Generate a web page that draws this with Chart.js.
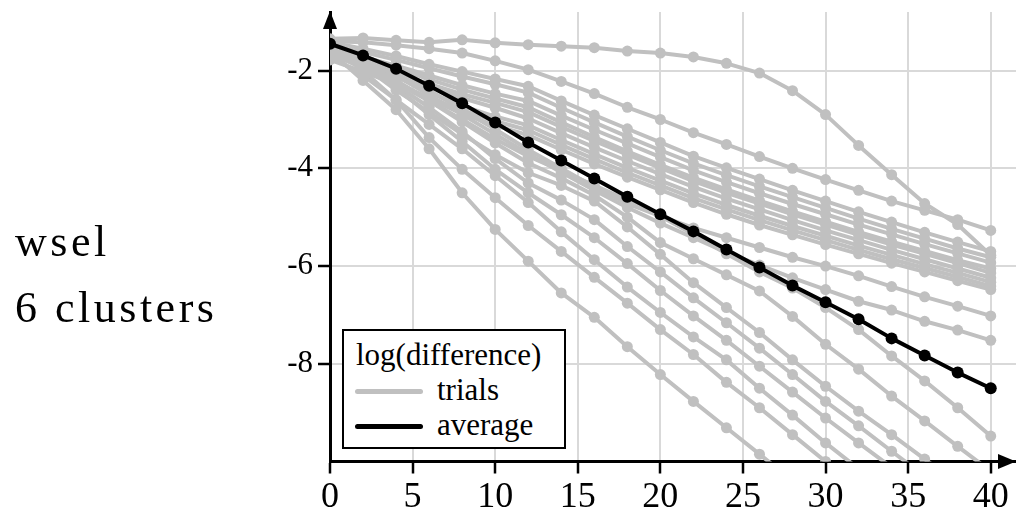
<!DOCTYPE html>
<html>
<head>
<meta charset="utf-8">
<title>wsel, 6 clusters: log(difference)</title>
<script src="https://cdn.jsdelivr.net/npm/chart.js@4.4.1/dist/chart.umd.min.js"></script>
<style>
  html, body { margin: 0; padding: 0; background: #fff; overflow: hidden; }
  #wrap { position: relative; width: 1016px; height: 517px; }
  #c { position: absolute; left: 0; top: 0; }
  #caption {
    position: absolute; left: 15px; top: 209px;
    font-family: "Liberation Serif", "Times New Roman", "DejaVu Serif", serif; font-size: 44px; line-height: 66px;
    letter-spacing: 3.5px; color: #000; white-space: nowrap;
  }
  #legend {
    position: absolute; left: 342px; top: 329px; width: 224px; height: 120px;
    box-sizing: border-box; border: 2px solid #000; background: #fff;
    font-family: "Liberation Serif", "Times New Roman", "DejaVu Serif", serif; font-size: 31px; line-height: 31px; color: #000;
  }
  #legend .txt { position: absolute; white-space: nowrap; }
  #legend .swatch { position: absolute; height: 4.5px; border-radius: 2.5px; }
</style>
</head>
<body>
<div id="wrap">
  <canvas id="c" width="1016" height="517"></canvas>
  <div id="caption">wsel<br>6 clusters</div>
  <div id="legend"></div>
</div>
<script>
// iteration number on the x axis
const xValues = [0, 2, 4, 6, 8, 10, 12, 14, 16, 18, 20, 22, 24, 26, 28, 30, 32, 34, 36, 38, 40];

// mean log(difference) over all trials
const average = [-1.45, -1.69, -1.96, -2.31, -2.67, -3.06, -3.47, -3.84, -4.21, -4.58, -4.94,
                 -5.29, -5.66, -6.03, -6.40, -6.74, -7.09, -7.48, -7.83, -8.18, -8.50];

// individual trials (a run stops once it falls below the plotted range)
const trialA = [-1.35, -1.33, -1.38, -1.42, -1.37, -1.43, -1.47, -1.50, -1.53, -1.60, -1.64, -1.72, -1.85, -2.05, -2.41, -2.90, -3.53, -4.13, -4.72, -5.15, -5.78];
const trialB = [-1.40, -1.42, -1.48, -1.55, -1.64, -1.80, -1.98, -2.22, -2.47, -2.75, -3.00, -3.27, -3.51, -3.76, -4.00, -4.23, -4.45, -4.67, -4.86, -5.05, -5.27];
const trialC = [-1.42, -1.55, -1.70, -1.87, -2.02, -2.17, -2.32, -2.62, -2.91, -3.19, -3.47, -3.75, -3.99, -4.22, -4.45, -4.67, -4.89, -5.10, -5.31, -5.51, -5.70];
const trialD = [-1.50, -1.62, -1.78, -1.95, -2.12, -2.28, -2.45, -2.76, -3.06, -3.35, -3.63, -3.90, -4.14, -4.37, -4.59, -4.81, -5.03, -5.24, -5.44, -5.64, -5.82];
const trialF = [-1.55, -1.72, -1.90, -2.10, -2.30, -2.47, -2.62, -2.92, -3.21, -3.49, -3.77, -4.04, -4.28, -4.51, -4.73, -4.94, -5.15, -5.35, -5.55, -5.74, -5.93];
const trialG = [-1.45, -1.70, -1.95, -2.18, -2.39, -2.57, -2.75, -3.06, -3.36, -3.65, -3.93, -4.19, -4.43, -4.66, -4.88, -5.09, -5.30, -5.50, -5.69, -5.88, -6.05];
const trialH = [-1.62, -1.82, -2.04, -2.27, -2.48, -2.66, -2.85, -3.15, -3.44, -3.72, -3.99, -4.26, -4.50, -4.72, -4.94, -5.15, -5.36, -5.56, -5.75, -5.94, -6.14];
const trialI = [-1.48, -1.76, -2.05, -2.32, -2.56, -2.76, -2.98, -3.28, -3.57, -3.85, -4.12, -4.38, -4.62, -4.84, -5.06, -5.27, -5.47, -5.67, -5.86, -6.05, -6.24];
const trialK = [-1.40, -1.75, -2.12, -2.45, -2.72, -2.94, -3.12, -3.42, -3.71, -3.99, -4.25, -4.51, -4.75, -4.97, -5.18, -5.38, -5.58, -5.77, -5.96, -6.14, -6.33];
const trialL = [-1.78, -2.02, -2.28, -2.55, -2.81, -3.03, -3.22, -3.52, -3.81, -4.09, -4.35, -4.61, -4.84, -5.06, -5.27, -5.47, -5.67, -5.86, -6.04, -6.22, -6.41];
const trialM = [-1.52, -1.85, -2.22, -2.58, -2.88, -3.12, -3.32, -3.62, -3.91, -4.18, -4.44, -4.70, -4.94, -5.16, -5.36, -5.56, -5.75, -5.94, -6.12, -6.30, -6.48];
const trialN = [-1.50, -1.75, -2.05, -2.40, -2.80, -3.20, -3.62, -4.00, -4.38, -4.72, -4.98, -5.22, -5.42, -5.62, -5.82, -6.00, -6.20, -6.42, -6.63, -6.82, -7.02];
const trialO = [-1.55, -1.78, -2.10, -2.50, -2.90, -3.30, -3.70, -4.08, -4.45, -4.80, -5.12, -5.42, -5.72, -5.98, -6.24, -6.48, -6.72, -6.90, -7.13, -7.31, -7.52];
const trialP = [-1.60, -1.92, -2.25, -2.62, -3.00, -3.40, -3.75, -4.05, -4.35, -4.65, -4.98, -5.35, -5.75, -6.12, -6.45, -6.85, -7.30, -7.84, -8.35, -8.90, -9.48];
const trialQ = [-1.40, -1.80, -2.20, -2.62, -3.05, -3.48, -3.89, -4.20, -4.55, -5.00, -5.52, -5.85, -6.18, -6.51, -7.03, -7.60, -8.11, -8.66, -9.17, -9.69, -10.20];
const trialR = [-1.50, -1.90, -2.40, -2.85, -3.30, -3.72, -4.09, -4.35, -4.67, -5.20, -5.76, -6.34, -6.85, -7.36, -7.92, -8.46, -8.97, -9.45, -9.95, -10.45];
const trialS = [-1.65, -1.95, -2.30, -2.75, -3.25, -3.80, -4.30, -4.65, -5.05, -5.60, -6.12, -6.65, -7.16, -7.68, -8.22, -8.77, -9.27, -9.79, -10.30];
const trialT = [-1.45, -1.85, -2.35, -2.90, -3.45, -4.02, -4.50, -4.95, -5.42, -5.95, -6.50, -7.02, -7.52, -8.05, -8.58, -9.11, -9.62, -10.12];
const trialU = [-1.70, -2.10, -2.60, -3.10, -3.60, -4.15, -4.70, -5.30, -5.87, -6.43, -6.95, -7.45, -7.92, -8.50, -9.05, -9.62, -10.15];
const trialV = [-1.50, -2.00, -2.60, -3.37, -4.02, -4.60, -5.17, -5.70, -6.23, -6.76, -7.30, -7.81, -8.38, -8.90, -9.45, -10.00, -10.52];
const trialW = [-1.60, -2.20, -2.80, -3.60, -4.50, -5.25, -5.90, -6.55, -7.05, -7.65, -8.22, -8.77, -9.31, -9.85, -10.40];

const trials = [trialA, trialB, trialC, trialD, trialF, trialG, trialH, trialI, trialK, trialL,
                trialM, trialN, trialO, trialP, trialQ, trialR, trialS, trialT, trialU, trialV, trialW];

// axis ticks
const xTicks = [0, 5, 10, 15, 20, 25, 30, 35, 40];
const yTicks = [-8, -6, -4, -2];

// legend entries
const legendTitle = 'log(difference)';
const legendItems = [
  { label: 'trials', color: '#c0c0c0' },
  { label: 'average', color: '#000000' }
];

const GRAY = '#c0c0c0';
const SERIF = '"Liberation Serif", "Times New Roman", "DejaVu Serif", serif';
const toPoints = arr => arr.map((y, i) => ({ x: xValues[i], y }));

const datasets = [{
  label: 'average',
  data: toPoints(average),
  borderColor: '#000',
  backgroundColor: '#000',
  borderWidth: 4,
  pointRadius: 6,
  pointBorderWidth: 0,
  pointBackgroundColor: '#000',
  order: 0
}];
trials.forEach((t, i) => datasets.push({
  label: 'trials',
  data: toPoints(t),
  borderColor: GRAY,
  backgroundColor: GRAY,
  borderWidth: 4,
  pointRadius: 5.5,
  pointBorderWidth: 0,
  pointBackgroundColor: GRAY,
  order: 1 + i
}));

// arrow heads at the ends of both axes
const axisArrows = {
  id: 'axisArrows',
  afterDraw(chart) {
    const { ctx, chartArea: a } = chart;
    ctx.save();
    ctx.fillStyle = '#000';
    ctx.beginPath();
    ctx.moveTo(a.left, a.top - 1);
    ctx.lineTo(a.left - 7, a.top + 17);
    ctx.lineTo(a.left + 7, a.top + 17);
    ctx.closePath();
    ctx.fill();
    ctx.beginPath();
    ctx.moveTo(a.right, a.bottom);
    ctx.lineTo(a.right - 18, a.bottom - 7.5);
    ctx.lineTo(a.right - 18, a.bottom + 7.5);
    ctx.closePath();
    ctx.fill();
    ctx.restore();
  }
};

Chart.defaults.font.family = SERIF;
Chart.defaults.color = '#000';

new Chart(document.getElementById('c'), {
  type: 'line',
  data: { datasets },
  options: {
    responsive: false,
    devicePixelRatio: 1,
    animation: false,
    events: [],
    layout: { autoPadding: false, padding: { top: 12, right: 0, bottom: 0, left: 0 } },
    plugins: { legend: { display: false }, tooltip: { enabled: false } },
    elements: { line: { tension: 0, borderCapStyle: 'round', borderJoinStyle: 'round' } },
    scales: {
      x: {
        type: 'linear',
        min: 0,
        max: 41.53,
        afterBuildTicks: axis => { axis.ticks = xTicks.map(v => ({ value: v })); },
        afterFit: axis => { axis.height = 55.5; axis.paddingLeft = 0; axis.paddingRight = 0; },
        ticks: { font: { size: 36, family: SERIF }, padding: 2, maxRotation: 0, callback: v => String(v) },
        grid: { color: '#d9d9d9', lineWidth: 2, tickColor: '#000', tickLength: 12, tickWidth: 2.5 },
        border: { color: '#000', width: 3 }
      },
      y: {
        type: 'linear',
        min: -10,
        max: -0.8,
        afterBuildTicks: axis => { axis.ticks = yTicks.map(v => ({ value: v })); },
        afterFit: axis => { axis.width = 330; axis.paddingTop = 0; axis.paddingBottom = 0; },
        ticks: { font: { size: 31, family: SERIF }, padding: 5, callback: v => String(v) },
        grid: { color: '#d9d9d9', lineWidth: 2, tickColor: '#000', tickLength: 12, tickWidth: 2.5 },
        border: { color: '#000', width: 3 }
      }
    }
  },
  plugins: [axisArrows]
});

// legend box drawn inside the plot, bottom left
(function buildLegend() {
  const box = document.getElementById('legend');
  const title = document.createElement('div');
  title.className = 'txt';
  title.style.left = '12px';
  title.style.top = '8px';
  title.textContent = legendTitle;
  box.appendChild(title);
  legendItems.forEach((item, i) => {
    const sw = document.createElement('div');
    sw.className = 'swatch';
    sw.style.left = '11px';
    sw.style.width = '68px';
    sw.style.top = (58 + i * 35) + 'px';
    sw.style.background = item.color;
    box.appendChild(sw);
    const lab = document.createElement('div');
    lab.className = 'txt';
    lab.style.left = '93px';
    lab.style.top = (43 + i * 35) + 'px';
    lab.textContent = item.label;
    box.appendChild(lab);
  });
})();
</script>
</body>
</html>
